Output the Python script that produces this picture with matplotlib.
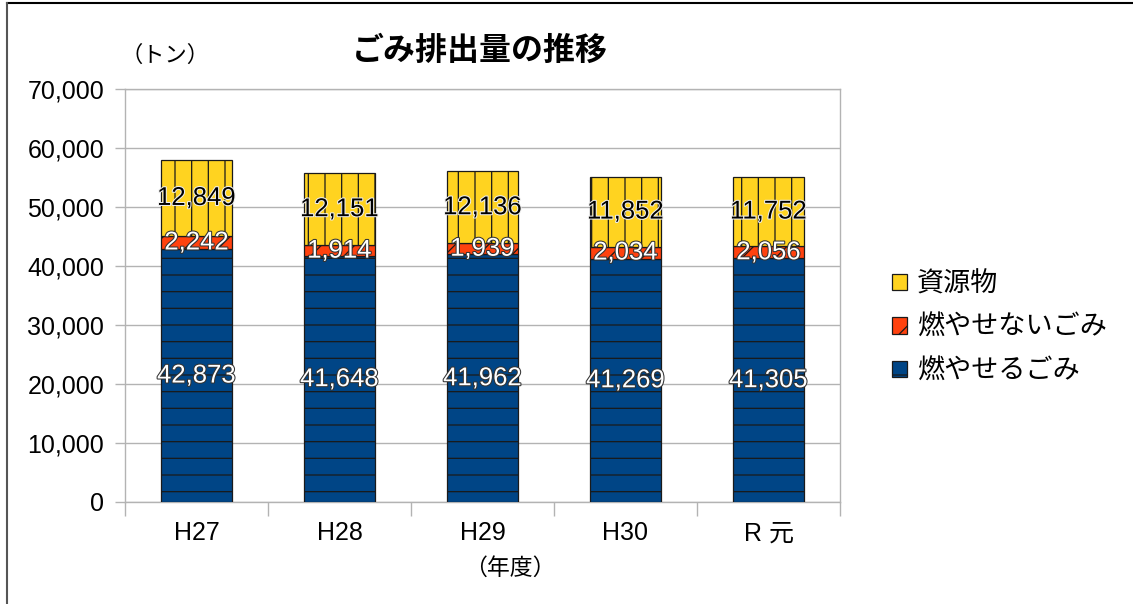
import matplotlib
matplotlib.use("Agg")
import matplotlib.pyplot as plt
import matplotlib.patheffects as pe
import numpy as np

plt.rcParams['font.family'] = ['Liberation Sans', 'Noto Sans CJK JP']
plt.rcParams['hatch.linewidth'] = 0.9

years = ["H27", "H28", "H29", "H30", "R 元"]
burnable = [42873, 41648, 41962, 41269, 41305]
non_burnable = [2242, 1914, 1939, 2034, 2056]
recyclable = [12849, 12151, 12136, 11852, 11752]

series_names = ["燃やせるごみ", "燃やせないごみ", "資源物"]
colors = ["#004586", "#ff420e", "#ffd320"]
hatches = ["-", "/", "|"]
text_colors = ["white", "white", "black"]

grid_c = "#b3b3b3"

fig = plt.figure(figsize=(11.33, 6.04), dpi=100)
ax = fig.add_axes([0.1103, 0.1689, 0.6311, 0.6837])

x = np.arange(len(years))
bottom = np.zeros(len(years))
handles = []
for vals, name, c, h, tc in zip([burnable, non_burnable, recyclable],
                                series_names, colors, hatches, text_colors):
    vals = np.array(vals, dtype=float)
    bars = ax.bar(x, vals, width=0.5, bottom=bottom, color=c, hatch=h,
                  edgecolor="#1a1a1a", linewidth=0.9, label=name, zorder=3)
    handles.append(bars)
    for xi, b, v in zip(x, bottom, vals):
        stroke = "#333333" if tc == "white" else "#eeeeee"
        ax.text(xi, b + v / 2, f"{int(v):,}", ha="center", va="center",
                fontsize=18.5, color=tc, zorder=5,
                path_effects=[pe.withStroke(linewidth=1.5, foreground=stroke)])
    bottom += vals

ax.set_xlim(-0.5, len(years) - 0.5)
ax.set_ylim(0, 70000)
ax.set_yticks(np.arange(0, 70001, 10000))
ax.yaxis.set_major_formatter(matplotlib.ticker.FuncFormatter(lambda v, p: f"{int(v):,}"))
ax.grid(axis="y", color=grid_c, linewidth=1, zorder=0)
ax.set_axisbelow(True)

# category boundaries as ticks, labels at centers
ax.set_xticks(np.arange(-0.5, len(years), 1.0))
ax.set_xticklabels([])
ax.set_xticks(x, minor=True)
ax.set_xticklabels(years, minor=True)
ax.tick_params(axis="x", which="major", length=10, color=grid_c, width=1)
ax.tick_params(axis="x", which="minor", length=0, pad=14, labelsize=18)
ax.tick_params(axis="y", length=7, color=grid_c, width=1, pad=8, labelsize=18)
for s in ax.spines.values():
    s.set_color(grid_c)
    s.set_linewidth(1)

fig.text(0.4236, 0.914, "ごみ排出量の推移", ha="center", va="center",
         fontsize=23, fontweight="bold")
fig.text(0.106, 0.907, "（トン）", ha="left", va="center", fontsize=16)
fig.text(0.45, 0.0596, "（年度）", ha="center", va="center", fontsize=16.5)

fig.legend(handles[::-1], series_names[::-1], loc="center left",
           bbox_to_anchor=(0.775, 0.457), frameon=False, fontsize=19.5,
           borderpad=0, handlelength=0.55, handleheight=0.55,
           handletextpad=0.38, labelspacing=0.64)

# outer frame (top and left visible in the reference)
fig.add_artist(plt.Line2D([0.0062, 1.0], [0.995, 0.995], color="black", linewidth=1.5))
fig.add_artist(plt.Line2D([0.0062, 0.0062], [0.0, 0.995], color="#555555", linewidth=1.5))

fig.savefig("out.png", dpi=100)
